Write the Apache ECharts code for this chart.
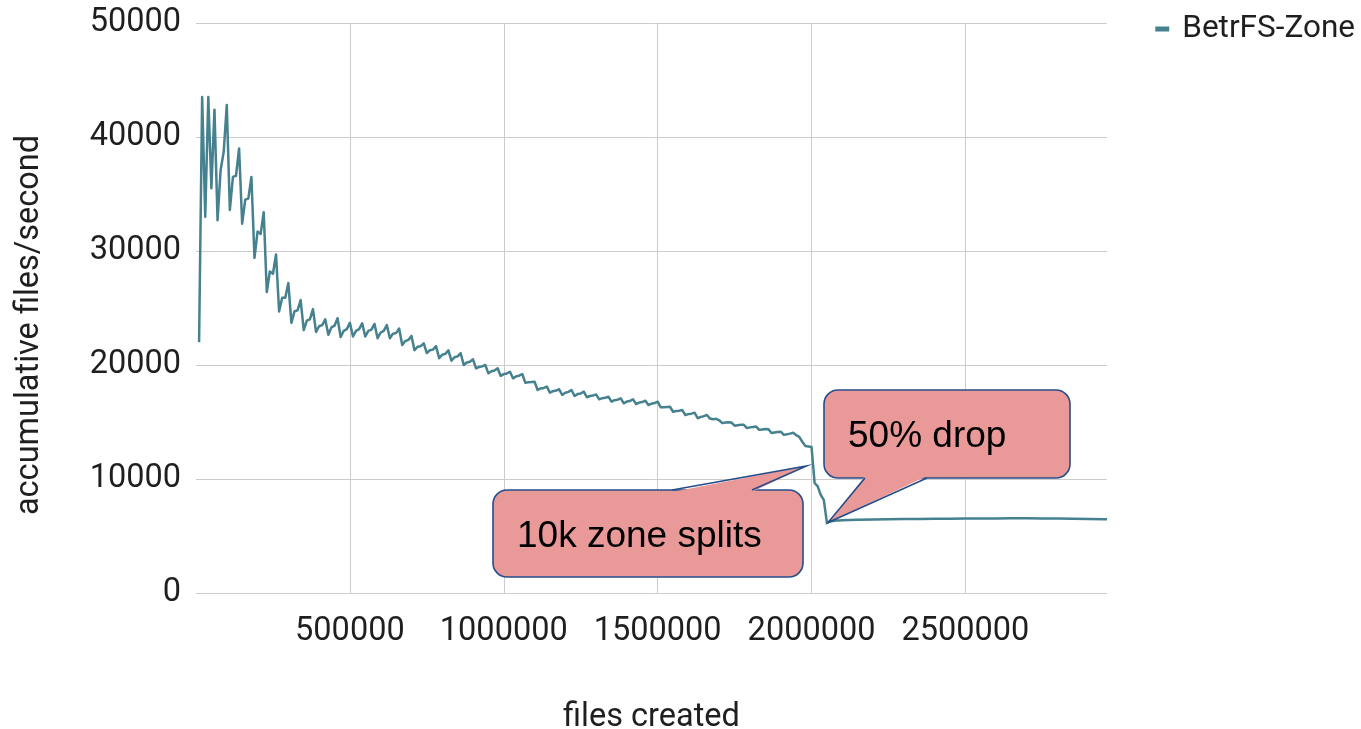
<!DOCTYPE html>
<html>
<head>
<meta charset="utf-8">
<script src="https://cdn.jsdelivr.net/npm/echarts@6/dist/echarts.min.js"></script>
<style>
html,body{margin:0;padding:0;background:#fff;}
#chart{width:1361px;height:729px;}
</style>
</head>
<body>
<div id="chart"></div>
<script>
var seriesName = 'BetrFS-Zone';
var xAxisTitle = 'files created';
var yAxisTitle = 'accumulative files/second';
var calloutTexts = ['50% drop', '10k zone splits'];

var filesCreated = [
  10000,20000,30000,40000,50000,60000,70000,80000,90000,100000,
  110000,120000,130000,140000,150000,160000,170000,180000,190000,200000,
  210000,220000,230000,240000,250000,260000,270000,280000,290000,300000,
  310000,320000,330000,340000,350000,360000,370000,380000,390000,400000,
  410000,420000,430000,440000,450000,460000,470000,480000,490000,500000,
  510000,520000,530000,540000,550000,560000,570000,580000,590000,600000,
  610000,620000,630000,640000,650000,660000,670000,680000,690000,700000,
  710000,720000,730000,740000,750000,760000,770000,780000,790000,800000,
  810000,820000,830000,840000,850000,860000,870000,880000,890000,900000,
  910000,920000,930000,940000,950000,960000,970000,980000,990000,1000000,
  1010000,1020000,1030000,1040000,1050000,1060000,1070000,1080000,1090000,1100000,
  1110000,1120000,1130000,1140000,1150000,1160000,1170000,1180000,1190000,1200000,
  1210000,1220000,1230000,1240000,1250000,1260000,1270000,1280000,1290000,1300000,
  1310000,1320000,1330000,1340000,1350000,1360000,1370000,1380000,1390000,1400000,
  1410000,1420000,1430000,1440000,1450000,1460000,1470000,1480000,1490000,1500000,
  1510000,1520000,1530000,1540000,1550000,1560000,1570000,1580000,1590000,1600000,
  1610000,1620000,1630000,1640000,1650000,1660000,1670000,1680000,1690000,1700000,
  1710000,1720000,1730000,1740000,1750000,1760000,1770000,1780000,1790000,1800000,
  1810000,1820000,1830000,1840000,1850000,1860000,1870000,1880000,1890000,1900000,
  1910000,1920000,1930000,1940000,1950000,1960000,1970000,1980000,1990000,2000000,
  2010000,2020000,2030000,2040000,2050000,2060000,2070000,2080000,2090000,2100000,
  2150000,2200000,2250000,2300000,2350000,2400000,2450000,2500000,2550000,2600000,
  2650000,2700000,2750000,2800000,2850000,2900000,2950000,2960000
];

var filesPerSecond = [
  22000,43500,33000,43500,35500,42400,32700,37100,38700,42800,
  33600,36500,36600,39000,32400,34500,34600,36500,29400,31700,
  31500,33400,26400,28200,28000,29700,24700,25900,25900,27200,
  23700,24700,24800,25700,23050,23890,24010,24900,22900,23400,
  23500,24000,22650,23300,23450,24100,22450,23000,23150,23700,
  22500,23000,23150,23650,22500,23000,23100,23600,22350,22850,
  23000,23500,22350,22750,22800,23200,21750,22100,22200,22550,
  21300,21600,21650,21900,21050,21300,21350,21650,20600,20900,
  20980,21280,20380,20680,20760,21030,20000,20220,20290,20500,
  19710,19830,19880,20000,19270,19460,19520,19710,19040,19200,
  19260,19410,18830,19000,19060,19210,18450,18480,18500,18540,
  17810,17940,17990,18100,17570,17700,17760,17870,17370,17560,
  17640,17810,17280,17450,17500,17660,17170,17280,17320,17420,
  16990,17090,17130,17220,16780,16910,16960,17080,16640,16800,
  16850,16990,16580,16700,16750,16870,16490,16610,16660,16780,
  16290,16300,16320,16340,15900,15960,15990,16050,15610,15690,
  15730,15820,15330,15450,15510,15610,15300,15250,15280,15150,
  14900,14950,14980,14950,14680,14720,14750,14750,14470,14530,
  14560,14600,14310,14350,14380,14360,14030,14080,14120,14150,
  13870,13920,13980,14060,13850,13700,13270,12900,12850,12800,
  9650,9350,8600,8150,6150,6280,6320,6350,6370,6390,
  6420,6450,6470,6490,6500,6510,6520,6530,6530,6540,
  6550,6550,6540,6530,6510,6500,6480,6470
];

var yTicks = [0, 10000, 20000, 30000, 40000, 50000];
var xTickStep = 500000;

var points = filesCreated.map(function (x, i) { return [x, filesPerSecond[i]]; });

var chart = echarts.init(document.getElementById('chart'), null, {renderer: 'canvas'});

var axisFont = 'Roboto, "Noto Sans", sans-serif';
var fs = 32.5;
var textColor = '#1f1f1f';
var calloutFill = '#ea9999';
var calloutStroke = '#274e8c';
var calloutFont = '37px "Liberation Sans", Arial, sans-serif';
function plain(v) { return String(v); }

function callout(box, tailA, tip, tailB, label, textPos, onTop) {
  var inset = onTop ? 2 : -2;
  return [
    {type: 'rect', z: 10, shape: {x: box[0], y: box[1], width: box[2], height: box[3], r: 14},
     style: {fill: calloutFill, stroke: calloutStroke, lineWidth: 1.6}},
    {type: 'polygon', z: 11, shape: {points: [[tailA[0], tailA[1] + inset], tip, [tailB[0], tailB[1] + inset]]},
     style: {fill: calloutFill, stroke: null}},
    {type: 'polyline', z: 12, shape: {points: [tailA, tip, tailB]},
     style: {fill: null, stroke: calloutStroke, lineWidth: 1.6, lineJoin: 'miter'}},
    {type: 'text', z: 13, x: textPos[0], y: textPos[1],
     style: {text: label, fill: '#000000', font: calloutFont, verticalAlign: 'middle', align: 'left'}}
  ];
}

var graphics = [].concat(
  callout([824, 390, 246, 88], [865, 478], [828, 522.5], [927, 478], calloutTexts[0], [848, 437], false),
  callout([493, 490, 310, 87], [672, 490], [806.5, 466], [752, 490], calloutTexts[1], [517, 537], true)
);

chart.setOption({
  animation: false,
  backgroundColor: '#ffffff',
  grid: {left: 196, top: 23, width: 911, height: 570, containLabel: false, outerBoundsMode: 'none'},
  legend: {
    data: [seriesName],
    right: 1, top: 8,
    icon: 'rect', itemWidth: 14, itemHeight: 5, itemGap: 10,
    textStyle: {fontFamily: axisFont, fontSize: 31.5, color: textColor, padding: [0,0,0,8]}
  },
  xAxis: {
    type: 'value',
    min: 0, max: 2960000, interval: xTickStep,
    name: xAxisTitle, nameLocation: 'middle', nameGap: 108,
    nameTextStyle: {fontFamily: axisFont, fontSize: fs, color: textColor},
    axisLine: {show: false}, axisTick: {show: false},
    axisLabel: {fontFamily: axisFont, fontSize: fs, color: textColor, margin: 22,
                showMinLabel: false, showMaxLabel: false, formatter: plain},
    splitLine: {show: true, showMinLine: false, showMaxLine: false,
                lineStyle: {color: '#cccccc', width: 1}}
  },
  yAxis: {
    type: 'value',
    min: yTicks[0], max: yTicks[yTicks.length - 1], interval: yTicks[1] - yTicks[0],
    name: yAxisTitle, nameLocation: 'middle', nameGap: 150,
    nameTextStyle: {fontFamily: axisFont, fontSize: fs, color: textColor, padding: [0, 34, 0, 0]},
    axisLine: {show: false}, axisTick: {show: false},
    axisLabel: {fontFamily: axisFont, fontSize: fs, color: textColor, margin: 15, formatter: plain},
    splitLine: {show: true, lineStyle: {color: '#cccccc', width: 1}}
  },
  series: [{
    name: seriesName,
    type: 'line',
    data: points,
    showSymbol: false,
    symbol: 'none',
    color: '#45818e',
    lineStyle: {color: '#45818e', width: 2.5, join: 'round'},
    z: 2
  }],
  graphic: graphics
});
</script>
</body>
</html>
